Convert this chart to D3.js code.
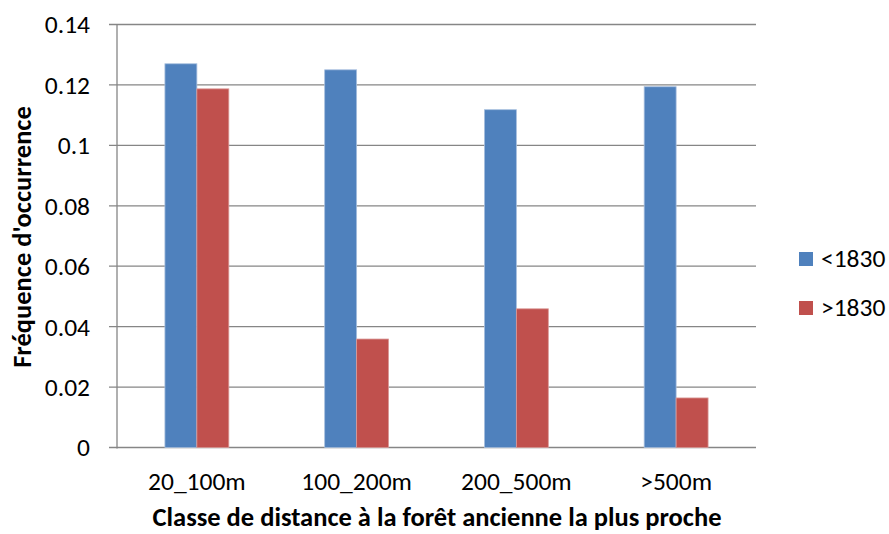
<!DOCTYPE html>
<html><head><meta charset="utf-8">
<script src="https://cdn.jsdelivr.net/npm/d3@7"></script>
<style>body{margin:0;background:#fff}svg{display:block}text{font-family:Carlito,"Open Sans","Liberation Sans",sans-serif;fill:#000}</style>
</head><body>
<svg id="c" width="889" height="534"></svg>
<script>
const categories = ["20_100m","100_200m","200_500m",">500m"];
const seriesNames = ["<1830",">1830"];
const before1830 = [0.127,0.125,0.1118,0.1194];
const after1830 = [0.1187,0.0359,0.0459,0.0164];
const yTicks = [0,0.02,0.04,0.06,0.08,0.1,0.12,0.14];
const colors = ["#4F81BD","#C0504D"];
const strokes = ["#A7BFDE","#DA9A98"];

(function(){
const svg = d3.select("#c");
const pLeft=117, pRight=756, pTop=24.5, pBottom=447.5;
const FONT='Carlito,"Open Sans","Liberation Sans",sans-serif';
const TICK=25.5, TITLE=26.5;
const x = d3.scaleBand().domain(categories).range([pLeft,pRight]).paddingInner(0.6).paddingOuter(0.3);
const xs = d3.scaleBand().domain(seriesNames).range([0,x.bandwidth()]);
const y = d3.scaleLinear().domain([0,0.14]).range([pBottom,pTop]);

svg.append("g").selectAll("line").data(yTicks).join("line")
  .attr("x1",pLeft-8).attr("x2",pRight).attr("y1",d=>y(d)).attr("y2",d=>y(d))
  .attr("stroke","#868686").attr("stroke-width",1.3);
svg.append("line").attr("x1",pLeft).attr("x2",pLeft).attr("y1",pTop).attr("y2",pBottom+1)
  .attr("stroke","#868686").attr("stroke-width",1.3);

const yAxis = d3.axisLeft(y).tickValues(yTicks).tickFormat(d=>String(+d.toFixed(2))).tickSize(0).tickPadding(0);
const ga = svg.append("g").attr("transform",`translate(${pLeft-27},0)`).call(yAxis);
ga.select(".domain").remove();
ga.selectAll("text").attr("font-size",TICK).attr("font-family",FONT).attr("fill","#000").attr("dy","0.33em");

const data = [before1830, after1830];
data.forEach((vals,si)=>{
  svg.append("g").selectAll("rect").data(vals).join("rect")
    .attr("x",(d,i)=>x(categories[i])+xs(seriesNames[si]))
    .attr("width",xs.bandwidth())
    .attr("y",d=>y(d)).attr("height",d=>pBottom-y(d))
    .attr("fill",colors[si]).attr("stroke",strokes[si]).attr("stroke-width",0.8);
});

const xAxis = d3.axisBottom(x).tickSize(0).tickPadding(0);
const gx = svg.append("g").attr("transform",`translate(0,490)`).call(xAxis);
gx.select(".domain").remove();
gx.selectAll("text").attr("font-size",TICK).attr("font-family",FONT).attr("fill","#000").attr("y",0).attr("dy",0);

svg.append("text").attr("x",437).attr("y",526).attr("text-anchor","middle")
  .attr("font-size",TITLE).attr("font-weight","bold").text("Classe de distance à la forêt ancienne la plus proche");
svg.append("text").attr("transform","translate(31,237) rotate(-90)").attr("text-anchor","middle")
  .attr("font-size",TITLE).attr("font-weight","bold").text("Fréquence d'occurrence");

const lg = svg.append("g");
seriesNames.forEach((n,i)=>{
  const yy = 259 + i*49;
  lg.append("rect").attr("x",799).attr("y",yy-7).attr("width",14).attr("height",14).attr("fill",colors[i]);
  lg.append("text").attr("x",821).attr("y",yy+8).attr("font-size",TICK).text(n);
});
})();
</script>
</body></html>
